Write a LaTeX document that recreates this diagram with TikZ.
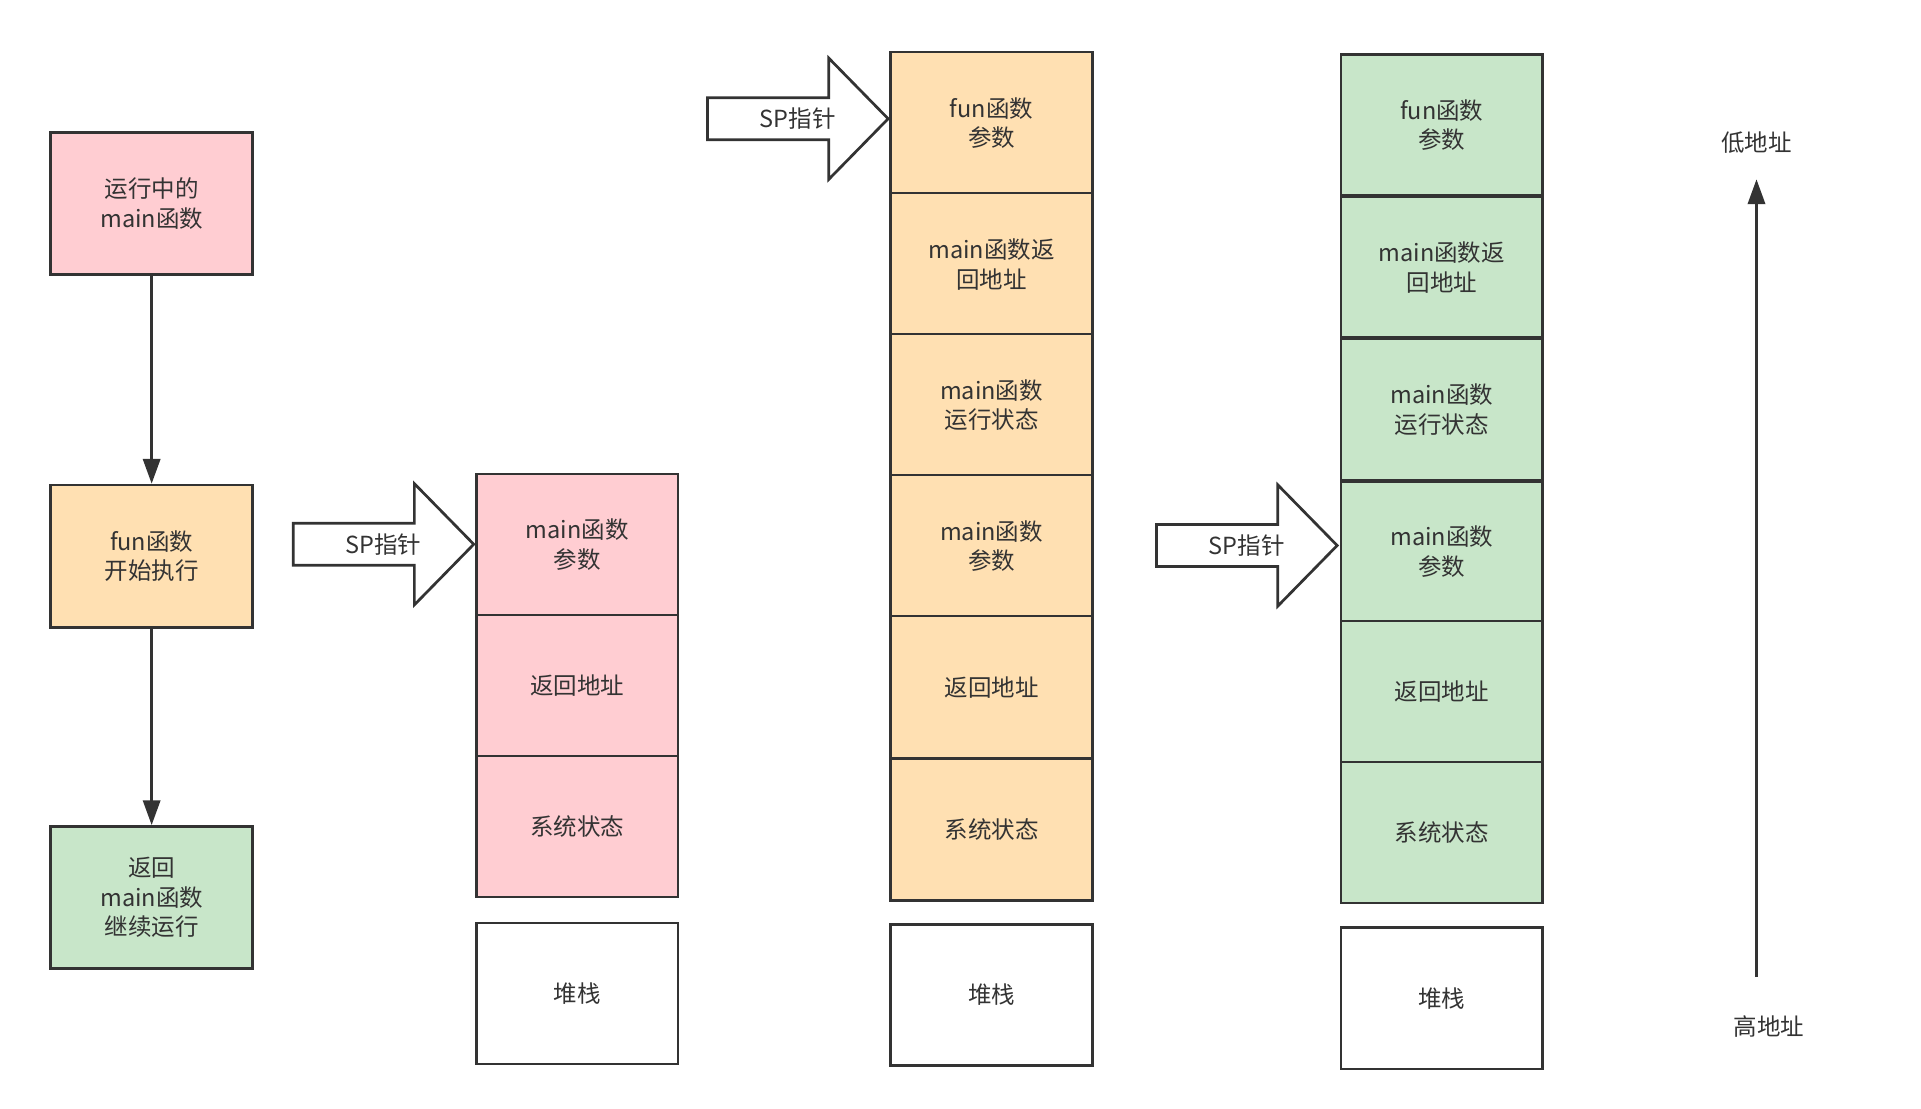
\documentclass[tikz,border=0pt]{standalone}
\usepackage{fontspec}
\setmainfont{Noto Sans CJK SC}
\usetikzlibrary{arrows.meta}
\definecolor{pk}{HTML}{FFCDD2}
\definecolor{og}{HTML}{FFE0B2}
\definecolor{gr}{HTML}{C8E6C9}
\definecolor{ln}{HTML}{333333}
\begin{document}
\begin{tikzpicture}[x=1pt,y=-1pt,
  cell/.style={draw=ln,line width=2.2pt,minimum width=163pt,anchor=north west,align=center,font=\fontsize{19}{24}\selectfont,text=ln,inner sep=0pt},
  sp/.style={draw=ln,line width=2.2pt,fill=white},
  flow/.style={draw=ln,line width=2pt,-{Triangle[length=20pt,width=14pt]}},
  lab/.style={font=\fontsize{19}{24}\selectfont,text=ln}]
\useasboundingbox (0,0) rectangle (1553,896);
% left flow
\node[cell,fill=pk,minimum height=115pt] (m1) at (40,106) {运行中的\\main函数};
\node[cell,fill=og,minimum height=115pt] (m2) at (40,391) {fun函数\\开始执行};
\node[cell,fill=gr,minimum height=115pt] (m3) at (40,667) {返回\\main函数\\继续运行};
\draw[flow] (m1) -- (m2);
\draw[flow] (m2) -- (m3);
% stack 1
\foreach \t/\y [count=\i] in {{main函数\\参数}/382,{返回地址}/496,{系统状态}/610}
  \node[cell,fill=pk,minimum height=114pt] (a\i) at (384,\y) {\t};
\node[cell,minimum height=114pt] (a0) at (384,745) {堆栈};
% stack 2
\foreach \t/\y [count=\i] in {{fun函数\\参数}/41,{main函数返\\回地址}/155,{main函数\\运行状态}/269,{main函数\\参数}/383,{返回地址}/497,{系统状态}/612}
  \node[cell,fill=og,minimum height=115pt] (b\i) at (719,\y) {\t};
\node[cell,minimum height=114pt] (b0) at (719,746) {堆栈};
% stack 3
\foreach \t/\y [count=\i] in {{fun函数\\参数}/43,{main函数返\\回地址}/158,{main函数\\运行状态}/273,{main函数\\参数}/388,{返回地址}/501,{系统状态}/615}
  \node[cell,fill=gr,minimum height=114pt] (c\i) at (1083,\y) {\t};
\node[cell,minimum height=114pt] (c0) at (1083,749) {堆栈};
% SP arrows
\foreach \n/\x/\y in {a1/237/440,b1/572/96,c4/935/441}{
  \draw[sp] (\x,\y-17) -- (\x+98,\y-17) -- (\x+98,\y-49) -- (\x+146,\y) -- (\x+98,\y+49) -- (\x+98,\y+17) -- (\x,\y+17) -- cycle;
  \node[lab] at (\x+73,\y) {SP指针};
}
% address axis
\node[lab] (lo) at (1420,115) {低地址};
\node[lab] (hi) at (1430,830) {高地址};
\coordinate (h0) at (1420,790);
\coordinate (l0) at (1420,145);
\draw[flow] (h0) -- (l0);
\end{tikzpicture}
\end{document}
